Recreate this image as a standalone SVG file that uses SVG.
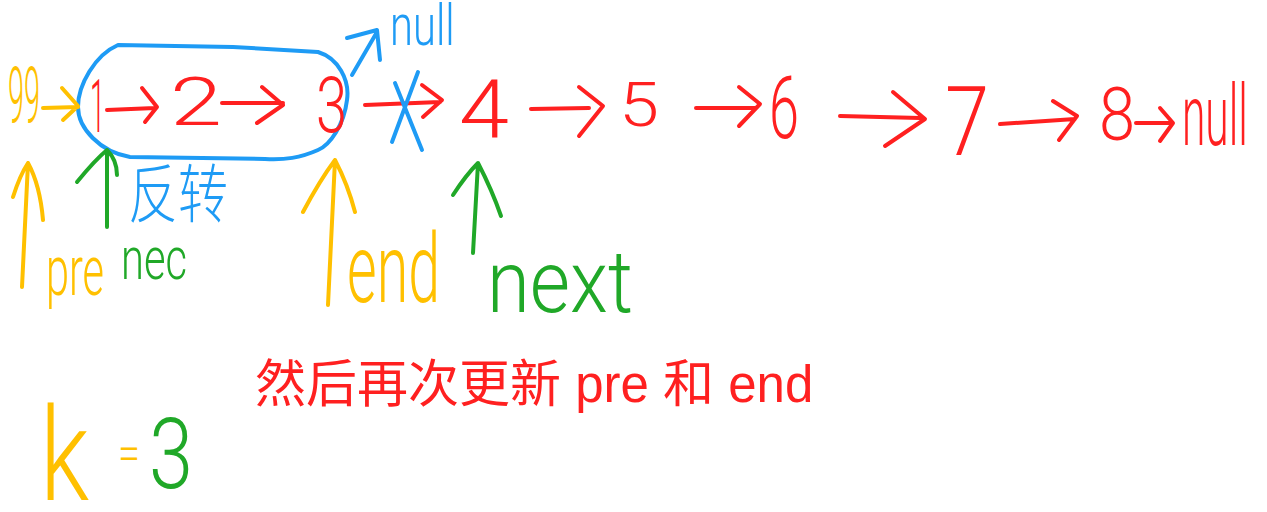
<svg xmlns="http://www.w3.org/2000/svg" width="1267" height="512" viewBox="0 0 1267 512">
<style>
text{font-family:"Liberation Sans","Noto Sans CJK SC",sans-serif;}
.hw{font-family:"Roboto","Liberation Sans","Noto Sans CJK SC",sans-serif;font-weight:300;}
.ln{fill:none;stroke-width:4;stroke-linecap:round;stroke-linejoin:round;}
.r{stroke:#FF2020;} .o{stroke:#FFC000;} .b{stroke:#1E9BF5;} .g{stroke:#20A828;}
.tr{fill:#FF2020;} .to{fill:#FFC000;} .tb{fill:#1E9BF5;} .tg{fill:#20A828;}
</style>
<rect width="1267" height="512" fill="#FFFFFF"/>
<g id="group-reverse">
<path class="ln b" d="M118 45 L233 47 L318 52 C338 58 350 80 347 100 C344 125 330 145 318 150 C300 158 285 160 265 159 L130 157 C100 152 78 128 78 107 C78 85 95 55 118 45 Z"/>
<text class="tb" x="128" y="217" font-size="64" textLength="100" lengthAdjust="spacingAndGlyphs" font-weight="300">反转</text>
</g>
<g id="node-99"><text class="to hw" x="8" y="123" font-size="78" textLength="32" lengthAdjust="spacingAndGlyphs">99</text></g>
<g id="node-1"><text class="tr hw" x="90" y="132" font-size="75" textLength="15" lengthAdjust="spacingAndGlyphs">1</text></g>
<g id="node-2"><text class="tr hw" x="170" y="125" font-size="66" textLength="52" lengthAdjust="spacingAndGlyphs">2</text></g>
<g id="node-3"><text class="tr hw" x="316" y="132" font-size="77" textLength="31" lengthAdjust="spacingAndGlyphs">3</text></g>
<g id="node-4"><text class="tr hw" x="459" y="138" font-size="81" textLength="50" lengthAdjust="spacingAndGlyphs">4</text></g>
<g id="node-5"><text class="tr hw" x="619" y="126" font-size="61" textLength="40" lengthAdjust="spacingAndGlyphs">5</text></g>
<g id="node-6"><text class="tr hw" x="769" y="138" font-size="88" textLength="30" lengthAdjust="spacingAndGlyphs">6</text></g>
<g id="node-7"><text class="tr hw" x="945" y="155" font-size="96" textLength="44" lengthAdjust="spacingAndGlyphs">7</text></g>
<g id="node-8"><text class="tr hw" x="1099" y="140" font-size="74" textLength="36" lengthAdjust="spacingAndGlyphs">8</text></g>
<g id="node-null-end"><text class="tr hw" transform="translate(1182 145) scale(0.5 1)" font-size="85">null</text></g>
<g id="node-null-reversed"><text class="tb hw" transform="translate(390 45) scale(0.72 1)" font-size="58">null</text></g>
<g id="connectors">
<path class="ln o" d="M43 108 L78 107 M62 88 L78 106 L63 120"/>
<path class="ln r" d="M107 110 L155 108 M142 88 L157 107 L145 122"/>
<path class="ln r" d="M222 103 L283 103 M262 87 L283 105 L257 123"/>
<path class="ln r" d="M365 105 L440 102 M422 85 L442 100 L423 117"/>
<path class="ln b" d="M395 83 L422 150 M418 72 L392 142"/>
<path class="ln b" d="M352 75 L377 32 M347 38 L377 30 L380 60"/>
<path class="ln r" d="M531 109 L589 108 M579 87 L603 106 L579 136"/>
<path class="ln r" d="M696 108 L755 108 M739 87 L760 104 L739 126"/>
<path class="ln r" d="M840 116 L920 118 M893 92 L925 119 L885 146"/>
<path class="ln r" d="M1000 124 L1075 119 M1053 101 L1077 116 L1059 140"/>
<path class="ln r" d="M1136 123 L1171 123 M1160 108 L1173 123 L1160 141"/>
</g>
<g id="pointer-pre">
<path class="ln o" d="M28 163 L22 287 M13 197 Q20 175 28 163 Q40 185 43 220"/>
<text class="to hw" x="46" y="295" font-size="70" textLength="58" lengthAdjust="spacingAndGlyphs">pre</text>
</g>
<g id="pointer-nec">
<path class="ln g" d="M107 150 L107 227 M77 182 Q95 160 107 150 Q117 160 117 175"/>
<text class="tg hw" x="121" y="279" font-size="60" textLength="66" lengthAdjust="spacingAndGlyphs">nec</text>
</g>
<g id="pointer-end">
<path class="ln o" d="M335 160 L328 305 M303 212 Q320 180 335 160 Q348 185 355 212"/>
<text class="to hw" x="347" y="302" font-size="96" textLength="93" lengthAdjust="spacingAndGlyphs">end</text>
</g>
<g id="pointer-next">
<path class="ln g" d="M478 163 L473 253 M453 195 Q466 175 478 163 Q492 190 501 216"/>
<text class="tg hw" x="487" y="312" font-size="88" textLength="146" lengthAdjust="spacingAndGlyphs">next</text>
</g>
<g id="k-label">
<text class="hw to" transform="translate(40 500) scale(0.77 1)" font-size="130">k</text>
<text class="hw to" x="118" y="470" font-size="50" textLength="22" lengthAdjust="spacingAndGlyphs">=</text>
<text class="hw tg" x="149" y="488" font-size="99" textLength="44" lengthAdjust="spacingAndGlyphs">3</text>
</g>
<g id="caption">
<text class="tr" x="255" y="402" font-size="51">然后再次更新 pre 和 end</text>
</g>
</svg>
